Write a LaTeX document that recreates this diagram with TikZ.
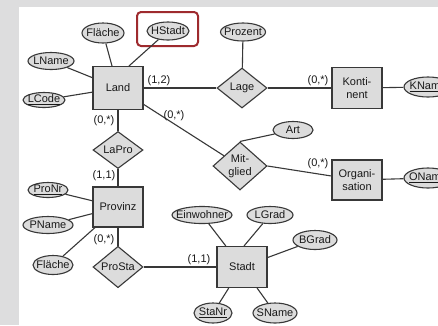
\documentclass[tikz,border=0pt]{standalone}
\usepackage{fontspec}
\setmainfont{Liberation Sans}
\usetikzlibrary{shapes.geometric,calc}
\definecolor{bggrey}{HTML}{DDDDDE}
\definecolor{nodegrey}{HTML}{DCDCDC}
\definecolor{edgecol}{HTML}{383838}
\definecolor{hlred}{HTML}{9E2A2E}
\newcommand\zw[1]{\makebox[0pt]{#1}}
\begin{document}
\begin{tikzpicture}[x=1pt,y=-1pt,
  every node/.style={font=\fontsize{11}{13}\selectfont, text=black!90},
  ent/.style={draw=edgecol, fill=nodegrey, line width=1.1pt, minimum width=50pt, minimum height=41pt, inner sep=0pt, align=center},
  rel/.style={diamond, draw=edgecol, fill=nodegrey, line width=1.1pt, inner sep=0pt, align=center, minimum width=50pt, minimum height=40pt},
  attr/.style={ellipse, draw=edgecol, fill=nodegrey, line width=1.1pt, inner sep=0pt, minimum height=17pt},
  link/.style={draw=edgecol, line width=1.1pt},
  card/.style={inner sep=0pt}]
\useasboundingbox (0,0) rectangle (438,325);
\clip (0,0) rectangle (438,325);
\fill[bggrey] (0,0) rectangle (438,325);
\fill[white] (19,7) rectangle (438,325);

% entities
\node[ent, minimum height=43pt] (land) at (118,88) {Land};
\node[ent] (kont) at (357,88) {Konti-\\nent};
\node[ent, minimum height=40pt] (orga) at (357,180) {Organi-\\sation};
\node[ent, minimum height=40pt] (prov) at (118,207) {Provinz};
\node[ent] (stadt) at (242,267) {Stadt};

% relationships
\node[rel] (lage) at (242,88) {Lage};
\node[rel, minimum height=34pt] (lapro) at (118,150) {LaPro};
\node[rel, minimum width=54pt, minimum height=48pt] (mitglied) at (240,166) {Mit-\\glied};
\node[rel] (prosta) at (118,267) {ProSta};

% attributes
\node[attr, minimum width=42pt, minimum height=20pt] (fl1) at (103,33) {\zw{Fläche}};
\node[attr, minimum width=42pt, minimum height=18pt] (hst) at (168,31) {\zw{HStadt}};
\node[attr, minimum width=46pt] (lname) at (51,61) {\zw{LName}};
\node[attr, minimum width=42pt, minimum height=15pt] (lcode) at (44,100) {\zw{\underline{LCode}}};
\node[attr, minimum width=45pt, minimum height=18pt] (proz) at (243,32) {\zw{Prozent}};
\node[attr, minimum width=48pt, minimum height=20pt] (kname) at (428,87) {\zw{\underline{KName}}};
\node[attr, minimum width=40pt] (art) at (293,130) {\zw{Art}};
\node[attr, minimum width=48pt, minimum height=20pt] (oname) at (428,178) {\zw{\underline{OName}}};
\node[attr, minimum width=40pt, minimum height=15pt] (pronr) at (48,190) {\zw{\underline{ProNr}}};
\node[attr, minimum width=50pt] (pname) at (48,225) {\zw{PName}};
\node[attr, minimum width=40pt, minimum height=19pt] (fl2) at (53,265) {\zw{Fläche}};
\node[attr, minimum width=60pt] (einw) at (202,215) {\zw{Einwohner}};
\node[attr, minimum width=46pt] (lgrad) at (270,215) {\zw{LGrad}};
\node[attr, minimum width=44pt, minimum height=19pt] (bgrad) at (315,240) {\zw{BGrad}};
\node[attr, minimum width=38pt, minimum height=20pt] (stanr) at (213,313) {\zw{\underline{StaNr}}};
\node[attr, minimum width=44pt, minimum height=20pt] (sname) at (275,313) {\zw{SName}};

% highlight
\draw[hlred, line width=2pt, rounded corners=4pt] (137,12) rectangle (198,46);

% connectors
\draw[link] (fl1) -- (land);
\draw[link] (hst) -- ($(land.north)+(11,0)$);
\draw[link] (lname) -- (land);
\draw[link] (lcode) -- (land);
\draw[link] (land) -- (lage);
\draw[link] (proz) -- (lage);
\draw[link] (lage) -- (kont);
\draw[link] (kont) -- (kname);
\draw[link] (land) -- (mitglied);
\draw[link] (mitglied.north) -- (art);
\draw[link] (mitglied.east) -- (orga);
\draw[link] (orga) -- (oname);
\draw[link] (land) -- (lapro);
\draw[link] (lapro) -- (prov);
\draw[link] (pronr) -- (prov);
\draw[link] (pname) -- (prov);
\draw[link] (fl2) -- (prov);
\draw[link] (prov) -- (prosta);
\draw[link] (prosta) -- (stadt);
\draw[link] (einw) -- (stadt);
\draw[link] (lgrad) -- ($(stadt.north)+(2,0)$);
\draw[link] (bgrad) -- (stadt);
\draw[link] (stanr) -- (stadt);
\draw[link] (sname) -- (stadt);

% cardinalities
\node[card] (c1) at (159,81) {(1,2)};
\node[card] (c2) at (104,121) {(0,*)};
\node[card] (c3) at (174,116) {(0,*)};
\node[card] (c4) at (318,81) {(0,*)};
\node[card] (c5) at (318,164) {(0,*)};
\node[card] (c6) at (104,176) {(1,1)};
\node[card] (c7) at (104,240) {(0,*)};
\node[card] (c8) at (199,260) {(1,1)};
\end{tikzpicture}
\end{document}
